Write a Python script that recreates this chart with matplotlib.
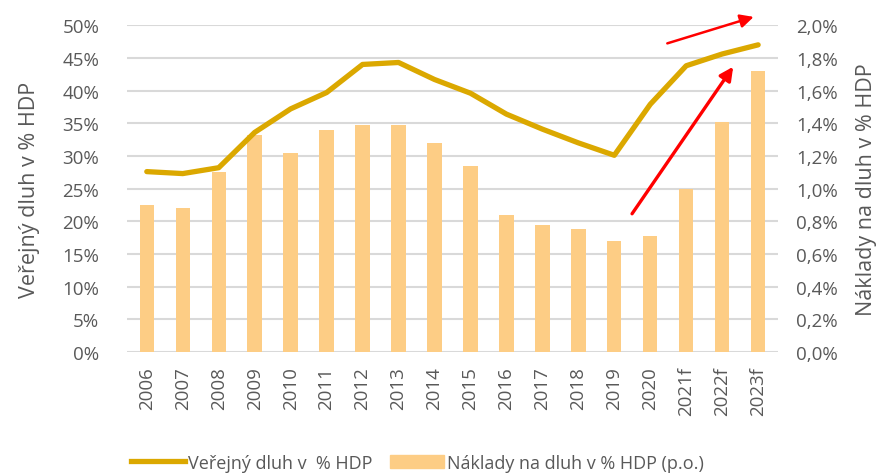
import matplotlib
matplotlib.use("Agg")
import matplotlib.pyplot as plt
from matplotlib.ticker import FuncFormatter

plt.rcParams['font.family'] = ['Open Sans', 'DejaVu Sans']

years = ["2006", "2007", "2008", "2009", "2010", "2011", "2012", "2013", "2014",
         "2015", "2016", "2017", "2018", "2019", "2020", "2021f", "2022f", "2023f"]
# verejny dluh, % HDP (left axis)
debt = [27.6, 27.3, 28.2, 33.6, 37.2, 39.7, 44.0, 44.3, 41.7,
        39.6, 36.4, 34.1, 32.0, 30.1, 37.9, 43.8, 45.6, 47.0]
# naklady na dluh, % HDP (right axis)
cost = [0.90, 0.88, 1.10, 1.33, 1.22, 1.36, 1.39, 1.39, 1.28,
        1.14, 0.84, 0.78, 0.75, 0.68, 0.71, 1.00, 1.41, 1.72]

line_col = "#DBA800"
bar_col = "#FDCD85"
txt_col = "#595959"
grid_col = "#D9D9D9"

fig = plt.figure(figsize=(8.82, 4.77), dpi=100)
ax = fig.add_axes([0.144, 0.26, 0.738, 0.685])
ax2 = ax.twinx()

x = list(range(len(years)))

# bars on the right axis, line on the left one (drawn above)
ax2.bar(x, cost, width=0.4, color=bar_col, zorder=2)
ax.set_zorder(ax2.get_zorder() + 1)
ax.patch.set_visible(False)
ax.plot(x, debt, color=line_col, linewidth=3.8, solid_capstyle='round', zorder=3)

ax.set_ylim(0, 50)
ax2.set_ylim(0, 2.0)
ax.set_xlim(-0.55, len(years) - 0.45)
ax.set_yticks(range(0, 51, 5))
ax2.set_yticks([i / 10 for i in range(0, 21, 2)])
ax.yaxis.set_major_formatter(FuncFormatter(lambda v, p: f"{v:.0f}%"))
ax2.yaxis.set_major_formatter(FuncFormatter(lambda v, p: f"{v:.1f}%".replace(".", ",")))

for yv in range(0, 51, 5):
    ax2.axhline(yv / 25, color=grid_col, linewidth=1.5, zorder=1)

ax.set_xticks(x)
ax.set_xticklabels(years, rotation=90)

for a in (ax, ax2):
    for s in a.spines.values():
        s.set_visible(False)
    a.tick_params(length=0, colors=txt_col, labelsize=13.5)
ax.tick_params(axis='y', pad=20)
ax2.tick_params(axis='y', pad=13)
ax.tick_params(axis='x', pad=10)

ax.set_ylabel("Veřejný dluh v % HDP", fontsize=15.5, color=txt_col, labelpad=16)
ax2.set_ylabel("Náklady na dluh v % HDP", fontsize=15.5, color=txt_col, labelpad=13)

# red trend arrows
arr = dict(arrowstyle="-|>", color="#FF0000", lw=2.4, mutation_scale=20)
ax.annotate("", xy=(16.35, 44.0), xytext=(13.45, 20.8), arrowprops=arr)
ax.annotate("", xy=(16.95, 51.4), xytext=(14.4, 47.1), arrowprops=dict(arr, lw=1.8),
            annotation_clip=False)

h1, = ax.plot([], [], color=line_col, linewidth=3.8)
h2 = plt.Rectangle((0, 0), 1, 1, color=bar_col)
fig.legend([h1, h2], ["Veřejný dluh v  % HDP", "Náklady na dluh v % HDP (p.o.)"],
           loc="lower left", bbox_to_anchor=(0.13, -0.025), ncol=2, frameon=False,
           fontsize=13, labelcolor=txt_col, handlelength=3.0, handletextpad=0.15,
           columnspacing=1.0)

fig.savefig("out.png", dpi=100)
